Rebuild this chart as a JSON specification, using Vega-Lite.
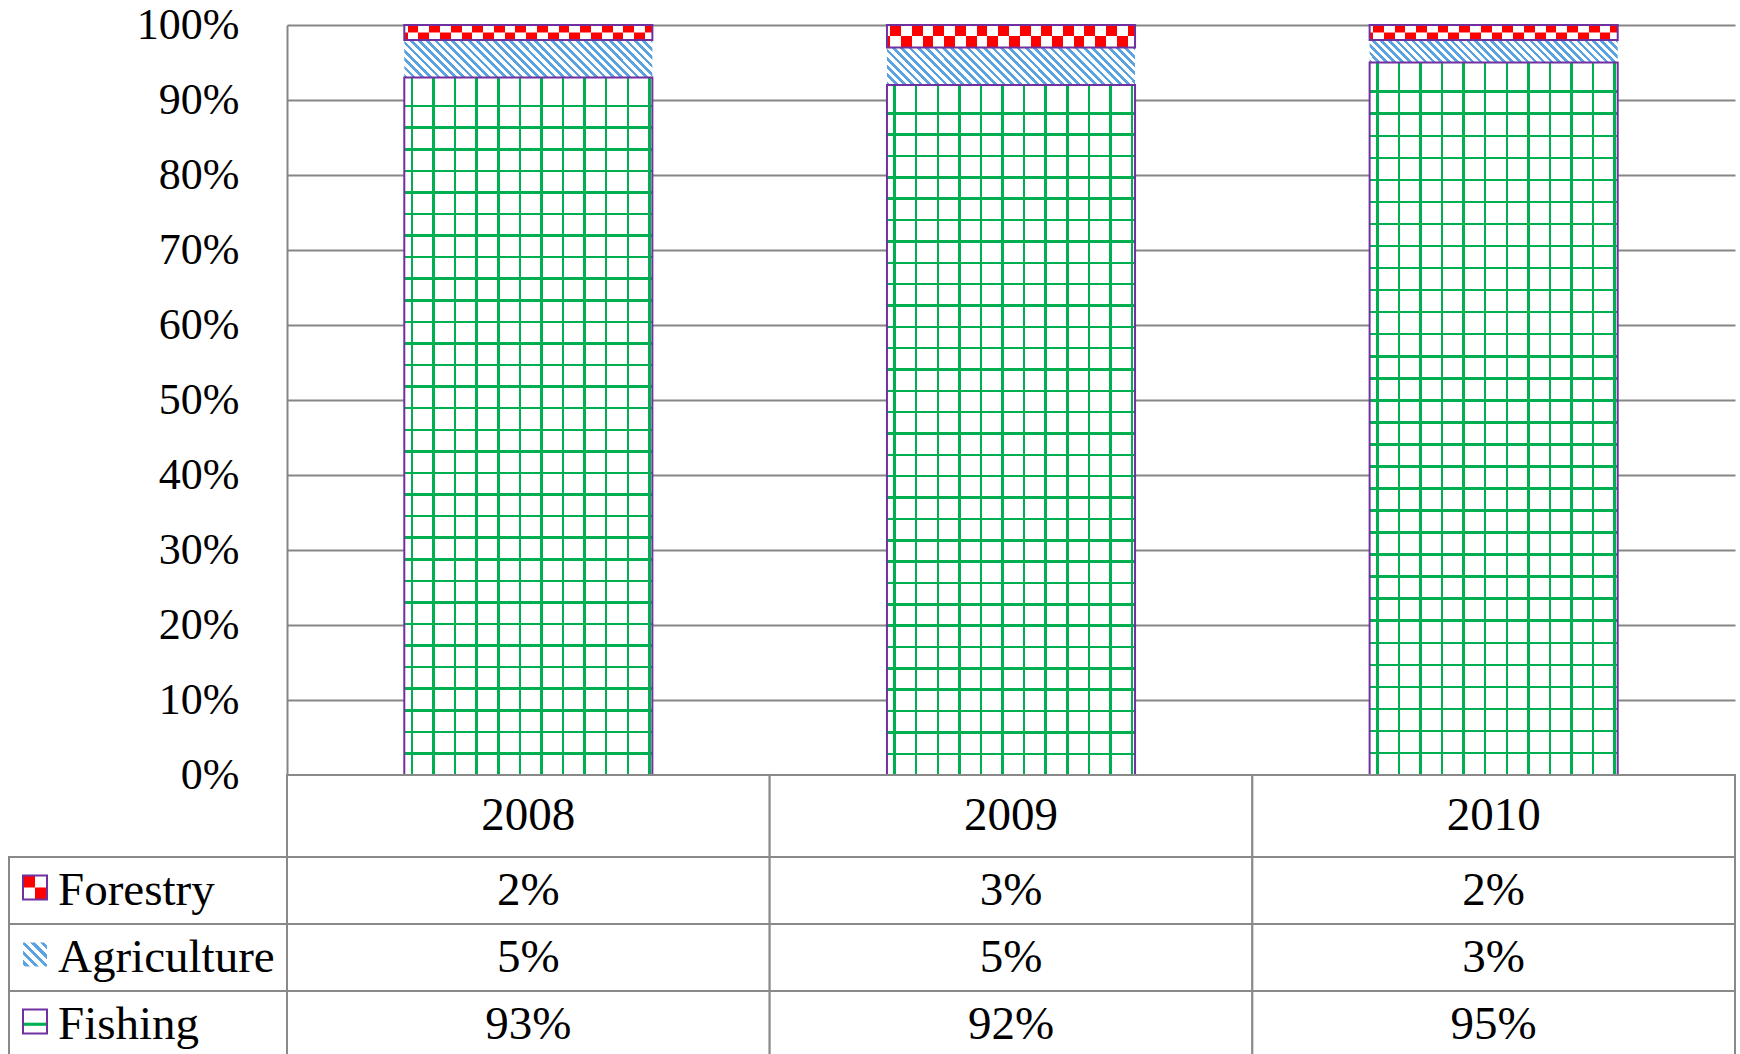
{
  "$schema": "https://vega.github.io/schema/vega-lite/v6.json",
  "width": 1448,
  "height": 750,
  "autosize": {"type": "none"},
  "padding": {"left": 287, "top": 25, "right": 5, "bottom": 279},
  "background": "#FFFFFF",
  "config": {"view": {"stroke": null}},
  "datasets": {
    "shares": [
      {"year": "2008", "sector": "Fishing", "value": 0.93},
      {"year": "2008", "sector": "Agriculture", "value": 0.05},
      {"year": "2008", "sector": "Forestry", "value": 0.02},
      {"year": "2009", "sector": "Fishing", "value": 0.92},
      {"year": "2009", "sector": "Agriculture", "value": 0.05},
      {"year": "2009", "sector": "Forestry", "value": 0.03},
      {"year": "2010", "sector": "Fishing", "value": 0.95},
      {"year": "2010", "sector": "Agriculture", "value": 0.03},
      {"year": "2010", "sector": "Forestry", "value": 0.02}
    ]
  },
  "layer": [
    {
      "data": {"name": "shares"},
      "transform": [
        {"stack": "value", "groupby": ["year"], "sort": [{"field": "year"}], "as": ["v0", "v1"]}
      ],
      "encoding": {
        "x": {"field": "year", "type": "nominal", "scale": {"type": "band", "paddingInner": 0.486, "paddingOuter": 0.243}, "axis": null},
        "y": {
          "field": "v1", "type": "quantitative",
          "scale": {"domain": [0, 1], "nice": false, "zero": true},
          "axis": {
            "values": [0, 0.1, 0.2, 0.3, 0.4, 0.5, 0.6, 0.7, 0.8, 0.9, 1],
            "format": ".0%", "title": null,
            "domain": true, "domainColor": "#868686", "domainWidth": 2,
            "ticks": false, "tickSize": 0,
            "grid": true, "gridColor": "#868686", "gridWidth": 2,
            "labelFont": "Liberation Serif", "labelFontSize": 44, "labelColor": "#000000",
            "labelPadding": 48, "labelFlush": false, "labelOverlap": false
          }
        },
        "y2": {"field": "v0"}
      },
      "layer": [
        {"mark": {"type": "bar", "fill": "#FFFFFF"}},
        {
          "transform": [{"filter": "datum.sector === 'Fishing'"}],
          "mark": {"type": "bar", "fill": {"gradient": "linear", "x1": 0, "y1": 0, "x2": 1, "y2": 0, "stops": [
            {"offset": 0, "color": "rgba(0,176,80,0)"},
            {"offset": 0.026, "color": "rgba(0,176,80,0)"}, {"offset": 0.026, "color": "#00B050"}, {"offset": 0.036, "color": "#00B050"}, {"offset": 0.036, "color": "rgba(0,176,80,0)"},
            {"offset": 0.113, "color": "rgba(0,176,80,0)"}, {"offset": 0.113, "color": "#00B050"}, {"offset": 0.123, "color": "#00B050"}, {"offset": 0.123, "color": "rgba(0,176,80,0)"},
            {"offset": 0.200, "color": "rgba(0,176,80,0)"}, {"offset": 0.200, "color": "#00B050"}, {"offset": 0.210, "color": "#00B050"}, {"offset": 0.210, "color": "rgba(0,176,80,0)"},
            {"offset": 0.287, "color": "rgba(0,176,80,0)"}, {"offset": 0.287, "color": "#00B050"}, {"offset": 0.297, "color": "#00B050"}, {"offset": 0.297, "color": "rgba(0,176,80,0)"},
            {"offset": 0.374, "color": "rgba(0,176,80,0)"}, {"offset": 0.374, "color": "#00B050"}, {"offset": 0.384, "color": "#00B050"}, {"offset": 0.384, "color": "rgba(0,176,80,0)"},
            {"offset": 0.461, "color": "rgba(0,176,80,0)"}, {"offset": 0.461, "color": "#00B050"}, {"offset": 0.471, "color": "#00B050"}, {"offset": 0.471, "color": "rgba(0,176,80,0)"},
            {"offset": 0.548, "color": "rgba(0,176,80,0)"}, {"offset": 0.548, "color": "#00B050"}, {"offset": 0.558, "color": "#00B050"}, {"offset": 0.558, "color": "rgba(0,176,80,0)"},
            {"offset": 0.635, "color": "rgba(0,176,80,0)"}, {"offset": 0.635, "color": "#00B050"}, {"offset": 0.645, "color": "#00B050"}, {"offset": 0.645, "color": "rgba(0,176,80,0)"},
            {"offset": 0.722, "color": "rgba(0,176,80,0)"}, {"offset": 0.722, "color": "#00B050"}, {"offset": 0.732, "color": "#00B050"}, {"offset": 0.732, "color": "rgba(0,176,80,0)"},
            {"offset": 0.809, "color": "rgba(0,176,80,0)"}, {"offset": 0.809, "color": "#00B050"}, {"offset": 0.819, "color": "#00B050"}, {"offset": 0.819, "color": "rgba(0,176,80,0)"},
            {"offset": 0.896, "color": "rgba(0,176,80,0)"}, {"offset": 0.896, "color": "#00B050"}, {"offset": 0.906, "color": "#00B050"}, {"offset": 0.906, "color": "rgba(0,176,80,0)"},
            {"offset": 0.983, "color": "rgba(0,176,80,0)"}, {"offset": 0.983, "color": "#00B050"}, {"offset": 0.993, "color": "#00B050"}, {"offset": 0.993, "color": "rgba(0,176,80,0)"},
            {"offset": 1, "color": "rgba(0,176,80,0)"}
          ]}}
        },
        {
          "transform": [{"filter": "datum.sector === 'Fishing'"}],
          "mark": {"type": "bar", "fill": {"gradient": "linear", "x1": 0, "y1": 0, "x2": 0, "y2": 1, "stops": [
            {"offset": 0, "color": "rgba(0,176,80,0)"},
            {"offset": 0.0392, "color": "rgba(0,176,80,0)"}, {"offset": 0.0392, "color": "#00B050"}, {"offset": 0.0428, "color": "#00B050"}, {"offset": 0.0428, "color": "rgba(0,176,80,0)"},
            {"offset": 0.0701, "color": "rgba(0,176,80,0)"}, {"offset": 0.0701, "color": "#00B050"}, {"offset": 0.0737, "color": "#00B050"}, {"offset": 0.0737, "color": "rgba(0,176,80,0)"},
            {"offset": 0.1011, "color": "rgba(0,176,80,0)"}, {"offset": 0.1011, "color": "#00B050"}, {"offset": 0.1047, "color": "#00B050"}, {"offset": 0.1047, "color": "rgba(0,176,80,0)"},
            {"offset": 0.1320, "color": "rgba(0,176,80,0)"}, {"offset": 0.1320, "color": "#00B050"}, {"offset": 0.1356, "color": "#00B050"}, {"offset": 0.1356, "color": "rgba(0,176,80,0)"},
            {"offset": 0.1630, "color": "rgba(0,176,80,0)"}, {"offset": 0.1630, "color": "#00B050"}, {"offset": 0.1666, "color": "#00B050"}, {"offset": 0.1666, "color": "rgba(0,176,80,0)"},
            {"offset": 0.1939, "color": "rgba(0,176,80,0)"}, {"offset": 0.1939, "color": "#00B050"}, {"offset": 0.1975, "color": "#00B050"}, {"offset": 0.1975, "color": "rgba(0,176,80,0)"},
            {"offset": 0.2248, "color": "rgba(0,176,80,0)"}, {"offset": 0.2248, "color": "#00B050"}, {"offset": 0.2284, "color": "#00B050"}, {"offset": 0.2284, "color": "rgba(0,176,80,0)"},
            {"offset": 0.2558, "color": "rgba(0,176,80,0)"}, {"offset": 0.2558, "color": "#00B050"}, {"offset": 0.2594, "color": "#00B050"}, {"offset": 0.2594, "color": "rgba(0,176,80,0)"},
            {"offset": 0.2867, "color": "rgba(0,176,80,0)"}, {"offset": 0.2867, "color": "#00B050"}, {"offset": 0.2903, "color": "#00B050"}, {"offset": 0.2903, "color": "rgba(0,176,80,0)"},
            {"offset": 0.3177, "color": "rgba(0,176,80,0)"}, {"offset": 0.3177, "color": "#00B050"}, {"offset": 0.3213, "color": "#00B050"}, {"offset": 0.3213, "color": "rgba(0,176,80,0)"},
            {"offset": 0.3486, "color": "rgba(0,176,80,0)"}, {"offset": 0.3486, "color": "#00B050"}, {"offset": 0.3522, "color": "#00B050"}, {"offset": 0.3522, "color": "rgba(0,176,80,0)"},
            {"offset": 0.3795, "color": "rgba(0,176,80,0)"}, {"offset": 0.3795, "color": "#00B050"}, {"offset": 0.3831, "color": "#00B050"}, {"offset": 0.3831, "color": "rgba(0,176,80,0)"},
            {"offset": 0.4105, "color": "rgba(0,176,80,0)"}, {"offset": 0.4105, "color": "#00B050"}, {"offset": 0.4141, "color": "#00B050"}, {"offset": 0.4141, "color": "rgba(0,176,80,0)"},
            {"offset": 0.4414, "color": "rgba(0,176,80,0)"}, {"offset": 0.4414, "color": "#00B050"}, {"offset": 0.4450, "color": "#00B050"}, {"offset": 0.4450, "color": "rgba(0,176,80,0)"},
            {"offset": 0.4723, "color": "rgba(0,176,80,0)"}, {"offset": 0.4723, "color": "#00B050"}, {"offset": 0.4759, "color": "#00B050"}, {"offset": 0.4759, "color": "rgba(0,176,80,0)"},
            {"offset": 0.5033, "color": "rgba(0,176,80,0)"}, {"offset": 0.5033, "color": "#00B050"}, {"offset": 0.5069, "color": "#00B050"}, {"offset": 0.5069, "color": "rgba(0,176,80,0)"},
            {"offset": 0.5342, "color": "rgba(0,176,80,0)"}, {"offset": 0.5342, "color": "#00B050"}, {"offset": 0.5378, "color": "#00B050"}, {"offset": 0.5378, "color": "rgba(0,176,80,0)"},
            {"offset": 0.5652, "color": "rgba(0,176,80,0)"}, {"offset": 0.5652, "color": "#00B050"}, {"offset": 0.5688, "color": "#00B050"}, {"offset": 0.5688, "color": "rgba(0,176,80,0)"},
            {"offset": 0.5961, "color": "rgba(0,176,80,0)"}, {"offset": 0.5961, "color": "#00B050"}, {"offset": 0.5997, "color": "#00B050"}, {"offset": 0.5997, "color": "rgba(0,176,80,0)"},
            {"offset": 0.6270, "color": "rgba(0,176,80,0)"}, {"offset": 0.6270, "color": "#00B050"}, {"offset": 0.6306, "color": "#00B050"}, {"offset": 0.6306, "color": "rgba(0,176,80,0)"},
            {"offset": 0.6580, "color": "rgba(0,176,80,0)"}, {"offset": 0.6580, "color": "#00B050"}, {"offset": 0.6616, "color": "#00B050"}, {"offset": 0.6616, "color": "rgba(0,176,80,0)"},
            {"offset": 0.6889, "color": "rgba(0,176,80,0)"}, {"offset": 0.6889, "color": "#00B050"}, {"offset": 0.6925, "color": "#00B050"}, {"offset": 0.6925, "color": "rgba(0,176,80,0)"},
            {"offset": 0.7198, "color": "rgba(0,176,80,0)"}, {"offset": 0.7198, "color": "#00B050"}, {"offset": 0.7234, "color": "#00B050"}, {"offset": 0.7234, "color": "rgba(0,176,80,0)"},
            {"offset": 0.7508, "color": "rgba(0,176,80,0)"}, {"offset": 0.7508, "color": "#00B050"}, {"offset": 0.7544, "color": "#00B050"}, {"offset": 0.7544, "color": "rgba(0,176,80,0)"},
            {"offset": 0.7817, "color": "rgba(0,176,80,0)"}, {"offset": 0.7817, "color": "#00B050"}, {"offset": 0.7853, "color": "#00B050"}, {"offset": 0.7853, "color": "rgba(0,176,80,0)"},
            {"offset": 0.8127, "color": "rgba(0,176,80,0)"}, {"offset": 0.8127, "color": "#00B050"}, {"offset": 0.8163, "color": "#00B050"}, {"offset": 0.8163, "color": "rgba(0,176,80,0)"},
            {"offset": 0.8436, "color": "rgba(0,176,80,0)"}, {"offset": 0.8436, "color": "#00B050"}, {"offset": 0.8472, "color": "#00B050"}, {"offset": 0.8472, "color": "rgba(0,176,80,0)"},
            {"offset": 0.8745, "color": "rgba(0,176,80,0)"}, {"offset": 0.8745, "color": "#00B050"}, {"offset": 0.8781, "color": "#00B050"}, {"offset": 0.8781, "color": "rgba(0,176,80,0)"},
            {"offset": 0.9055, "color": "rgba(0,176,80,0)"}, {"offset": 0.9055, "color": "#00B050"}, {"offset": 0.9091, "color": "#00B050"}, {"offset": 0.9091, "color": "rgba(0,176,80,0)"},
            {"offset": 0.9364, "color": "rgba(0,176,80,0)"}, {"offset": 0.9364, "color": "#00B050"}, {"offset": 0.9400, "color": "#00B050"}, {"offset": 0.9400, "color": "rgba(0,176,80,0)"},
            {"offset": 0.9674, "color": "rgba(0,176,80,0)"}, {"offset": 0.9674, "color": "#00B050"}, {"offset": 0.9710, "color": "#00B050"}, {"offset": 0.9710, "color": "rgba(0,176,80,0)"},
            {"offset": 1, "color": "rgba(0,176,80,0)"}
          ]}}
        },
        {
          "transform": [{"filter": "datum.sector === 'Agriculture'"}],
          "mark": {"type": "bar"},
          "encoding": {
            "fill": {
              "condition": {"test": "datum.year === '2010'", "value": {"gradient": "linear", "x1": 0, "y1": 1, "x2": 1.0817, "y2": 0.902, "stops": [
                {"offset": 0, "color": "#5BA3E0"}, {"offset": 0.0131, "color": "#5BA3E0"}, {"offset": 0.0131, "color": "#FFFFFF"},
                {"offset": 0.0291, "color": "#FFFFFF"}, {"offset": 0.0291, "color": "#5BA3E0"}, {"offset": 0.0422, "color": "#5BA3E0"}, {"offset": 0.0422, "color": "#FFFFFF"},
                {"offset": 0.0581, "color": "#FFFFFF"}, {"offset": 0.0581, "color": "#5BA3E0"}, {"offset": 0.0712, "color": "#5BA3E0"}, {"offset": 0.0712, "color": "#FFFFFF"},
                {"offset": 0.0872, "color": "#FFFFFF"}, {"offset": 0.0872, "color": "#5BA3E0"}, {"offset": 0.1003, "color": "#5BA3E0"}, {"offset": 0.1003, "color": "#FFFFFF"},
                {"offset": 0.1163, "color": "#FFFFFF"}, {"offset": 0.1163, "color": "#5BA3E0"}, {"offset": 0.1294, "color": "#5BA3E0"}, {"offset": 0.1294, "color": "#FFFFFF"},
                {"offset": 0.1454, "color": "#FFFFFF"}, {"offset": 0.1454, "color": "#5BA3E0"}, {"offset": 0.1585, "color": "#5BA3E0"}, {"offset": 0.1585, "color": "#FFFFFF"},
                {"offset": 0.1744, "color": "#FFFFFF"}, {"offset": 0.1744, "color": "#5BA3E0"}, {"offset": 0.1875, "color": "#5BA3E0"}, {"offset": 0.1875, "color": "#FFFFFF"},
                {"offset": 0.2035, "color": "#FFFFFF"}, {"offset": 0.2035, "color": "#5BA3E0"}, {"offset": 0.2166, "color": "#5BA3E0"}, {"offset": 0.2166, "color": "#FFFFFF"},
                {"offset": 0.2326, "color": "#FFFFFF"}, {"offset": 0.2326, "color": "#5BA3E0"}, {"offset": 0.2457, "color": "#5BA3E0"}, {"offset": 0.2457, "color": "#FFFFFF"},
                {"offset": 0.2616, "color": "#FFFFFF"}, {"offset": 0.2616, "color": "#5BA3E0"}, {"offset": 0.2747, "color": "#5BA3E0"}, {"offset": 0.2747, "color": "#FFFFFF"},
                {"offset": 0.2907, "color": "#FFFFFF"}, {"offset": 0.2907, "color": "#5BA3E0"}, {"offset": 0.3038, "color": "#5BA3E0"}, {"offset": 0.3038, "color": "#FFFFFF"},
                {"offset": 0.3198, "color": "#FFFFFF"}, {"offset": 0.3198, "color": "#5BA3E0"}, {"offset": 0.3329, "color": "#5BA3E0"}, {"offset": 0.3329, "color": "#FFFFFF"},
                {"offset": 0.3488, "color": "#FFFFFF"}, {"offset": 0.3488, "color": "#5BA3E0"}, {"offset": 0.3619, "color": "#5BA3E0"}, {"offset": 0.3619, "color": "#FFFFFF"},
                {"offset": 0.3779, "color": "#FFFFFF"}, {"offset": 0.3779, "color": "#5BA3E0"}, {"offset": 0.3910, "color": "#5BA3E0"}, {"offset": 0.3910, "color": "#FFFFFF"},
                {"offset": 0.4070, "color": "#FFFFFF"}, {"offset": 0.4070, "color": "#5BA3E0"}, {"offset": 0.4201, "color": "#5BA3E0"}, {"offset": 0.4201, "color": "#FFFFFF"},
                {"offset": 0.4361, "color": "#FFFFFF"}, {"offset": 0.4361, "color": "#5BA3E0"}, {"offset": 0.4492, "color": "#5BA3E0"}, {"offset": 0.4492, "color": "#FFFFFF"},
                {"offset": 0.4651, "color": "#FFFFFF"}, {"offset": 0.4651, "color": "#5BA3E0"}, {"offset": 0.4782, "color": "#5BA3E0"}, {"offset": 0.4782, "color": "#FFFFFF"},
                {"offset": 0.4942, "color": "#FFFFFF"}, {"offset": 0.4942, "color": "#5BA3E0"}, {"offset": 0.5073, "color": "#5BA3E0"}, {"offset": 0.5073, "color": "#FFFFFF"},
                {"offset": 0.5233, "color": "#FFFFFF"}, {"offset": 0.5233, "color": "#5BA3E0"}, {"offset": 0.5364, "color": "#5BA3E0"}, {"offset": 0.5364, "color": "#FFFFFF"},
                {"offset": 0.5523, "color": "#FFFFFF"}, {"offset": 0.5523, "color": "#5BA3E0"}, {"offset": 0.5654, "color": "#5BA3E0"}, {"offset": 0.5654, "color": "#FFFFFF"},
                {"offset": 0.5814, "color": "#FFFFFF"}, {"offset": 0.5814, "color": "#5BA3E0"}, {"offset": 0.5945, "color": "#5BA3E0"}, {"offset": 0.5945, "color": "#FFFFFF"},
                {"offset": 0.6105, "color": "#FFFFFF"}, {"offset": 0.6105, "color": "#5BA3E0"}, {"offset": 0.6236, "color": "#5BA3E0"}, {"offset": 0.6236, "color": "#FFFFFF"},
                {"offset": 0.6395, "color": "#FFFFFF"}, {"offset": 0.6395, "color": "#5BA3E0"}, {"offset": 0.6526, "color": "#5BA3E0"}, {"offset": 0.6526, "color": "#FFFFFF"},
                {"offset": 0.6686, "color": "#FFFFFF"}, {"offset": 0.6686, "color": "#5BA3E0"}, {"offset": 0.6817, "color": "#5BA3E0"}, {"offset": 0.6817, "color": "#FFFFFF"},
                {"offset": 0.6977, "color": "#FFFFFF"}, {"offset": 0.6977, "color": "#5BA3E0"}, {"offset": 0.7108, "color": "#5BA3E0"}, {"offset": 0.7108, "color": "#FFFFFF"},
                {"offset": 0.7268, "color": "#FFFFFF"}, {"offset": 0.7268, "color": "#5BA3E0"}, {"offset": 0.7399, "color": "#5BA3E0"}, {"offset": 0.7399, "color": "#FFFFFF"},
                {"offset": 0.7558, "color": "#FFFFFF"}, {"offset": 0.7558, "color": "#5BA3E0"}, {"offset": 0.7689, "color": "#5BA3E0"}, {"offset": 0.7689, "color": "#FFFFFF"},
                {"offset": 0.7849, "color": "#FFFFFF"}, {"offset": 0.7849, "color": "#5BA3E0"}, {"offset": 0.7980, "color": "#5BA3E0"}, {"offset": 0.7980, "color": "#FFFFFF"},
                {"offset": 0.8140, "color": "#FFFFFF"}, {"offset": 0.8140, "color": "#5BA3E0"}, {"offset": 0.8271, "color": "#5BA3E0"}, {"offset": 0.8271, "color": "#FFFFFF"},
                {"offset": 0.8430, "color": "#FFFFFF"}, {"offset": 0.8430, "color": "#5BA3E0"}, {"offset": 0.8561, "color": "#5BA3E0"}, {"offset": 0.8561, "color": "#FFFFFF"},
                {"offset": 0.8721, "color": "#FFFFFF"}, {"offset": 0.8721, "color": "#5BA3E0"}, {"offset": 0.8852, "color": "#5BA3E0"}, {"offset": 0.8852, "color": "#FFFFFF"},
                {"offset": 0.9012, "color": "#FFFFFF"}, {"offset": 0.9012, "color": "#5BA3E0"}, {"offset": 0.9143, "color": "#5BA3E0"}, {"offset": 0.9143, "color": "#FFFFFF"},
                {"offset": 0.9302, "color": "#FFFFFF"}, {"offset": 0.9302, "color": "#5BA3E0"}, {"offset": 0.9433, "color": "#5BA3E0"}, {"offset": 0.9433, "color": "#FFFFFF"},
                {"offset": 0.9593, "color": "#FFFFFF"}, {"offset": 0.9593, "color": "#5BA3E0"}, {"offset": 0.9724, "color": "#5BA3E0"}, {"offset": 0.9724, "color": "#FFFFFF"},
                {"offset": 0.9884, "color": "#FFFFFF"}, {"offset": 0.9884, "color": "#5BA3E0"}, {"offset": 1, "color": "#5BA3E0"}
              ]}},
              "value": {"gradient": "linear", "x1": 0, "y1": 1, "x2": 1.1254, "y2": 0.8301, "stops": [
                {"offset": 0, "color": "#5BA3E0"}, {"offset": 0.0131, "color": "#5BA3E0"}, {"offset": 0.0131, "color": "#FFFFFF"},
                {"offset": 0.0291, "color": "#FFFFFF"}, {"offset": 0.0291, "color": "#5BA3E0"}, {"offset": 0.0422, "color": "#5BA3E0"}, {"offset": 0.0422, "color": "#FFFFFF"},
                {"offset": 0.0581, "color": "#FFFFFF"}, {"offset": 0.0581, "color": "#5BA3E0"}, {"offset": 0.0712, "color": "#5BA3E0"}, {"offset": 0.0712, "color": "#FFFFFF"},
                {"offset": 0.0872, "color": "#FFFFFF"}, {"offset": 0.0872, "color": "#5BA3E0"}, {"offset": 0.1003, "color": "#5BA3E0"}, {"offset": 0.1003, "color": "#FFFFFF"},
                {"offset": 0.1163, "color": "#FFFFFF"}, {"offset": 0.1163, "color": "#5BA3E0"}, {"offset": 0.1294, "color": "#5BA3E0"}, {"offset": 0.1294, "color": "#FFFFFF"},
                {"offset": 0.1454, "color": "#FFFFFF"}, {"offset": 0.1454, "color": "#5BA3E0"}, {"offset": 0.1585, "color": "#5BA3E0"}, {"offset": 0.1585, "color": "#FFFFFF"},
                {"offset": 0.1744, "color": "#FFFFFF"}, {"offset": 0.1744, "color": "#5BA3E0"}, {"offset": 0.1875, "color": "#5BA3E0"}, {"offset": 0.1875, "color": "#FFFFFF"},
                {"offset": 0.2035, "color": "#FFFFFF"}, {"offset": 0.2035, "color": "#5BA3E0"}, {"offset": 0.2166, "color": "#5BA3E0"}, {"offset": 0.2166, "color": "#FFFFFF"},
                {"offset": 0.2326, "color": "#FFFFFF"}, {"offset": 0.2326, "color": "#5BA3E0"}, {"offset": 0.2457, "color": "#5BA3E0"}, {"offset": 0.2457, "color": "#FFFFFF"},
                {"offset": 0.2616, "color": "#FFFFFF"}, {"offset": 0.2616, "color": "#5BA3E0"}, {"offset": 0.2747, "color": "#5BA3E0"}, {"offset": 0.2747, "color": "#FFFFFF"},
                {"offset": 0.2907, "color": "#FFFFFF"}, {"offset": 0.2907, "color": "#5BA3E0"}, {"offset": 0.3038, "color": "#5BA3E0"}, {"offset": 0.3038, "color": "#FFFFFF"},
                {"offset": 0.3198, "color": "#FFFFFF"}, {"offset": 0.3198, "color": "#5BA3E0"}, {"offset": 0.3329, "color": "#5BA3E0"}, {"offset": 0.3329, "color": "#FFFFFF"},
                {"offset": 0.3488, "color": "#FFFFFF"}, {"offset": 0.3488, "color": "#5BA3E0"}, {"offset": 0.3619, "color": "#5BA3E0"}, {"offset": 0.3619, "color": "#FFFFFF"},
                {"offset": 0.3779, "color": "#FFFFFF"}, {"offset": 0.3779, "color": "#5BA3E0"}, {"offset": 0.3910, "color": "#5BA3E0"}, {"offset": 0.3910, "color": "#FFFFFF"},
                {"offset": 0.4070, "color": "#FFFFFF"}, {"offset": 0.4070, "color": "#5BA3E0"}, {"offset": 0.4201, "color": "#5BA3E0"}, {"offset": 0.4201, "color": "#FFFFFF"},
                {"offset": 0.4361, "color": "#FFFFFF"}, {"offset": 0.4361, "color": "#5BA3E0"}, {"offset": 0.4492, "color": "#5BA3E0"}, {"offset": 0.4492, "color": "#FFFFFF"},
                {"offset": 0.4651, "color": "#FFFFFF"}, {"offset": 0.4651, "color": "#5BA3E0"}, {"offset": 0.4782, "color": "#5BA3E0"}, {"offset": 0.4782, "color": "#FFFFFF"},
                {"offset": 0.4942, "color": "#FFFFFF"}, {"offset": 0.4942, "color": "#5BA3E0"}, {"offset": 0.5073, "color": "#5BA3E0"}, {"offset": 0.5073, "color": "#FFFFFF"},
                {"offset": 0.5233, "color": "#FFFFFF"}, {"offset": 0.5233, "color": "#5BA3E0"}, {"offset": 0.5364, "color": "#5BA3E0"}, {"offset": 0.5364, "color": "#FFFFFF"},
                {"offset": 0.5523, "color": "#FFFFFF"}, {"offset": 0.5523, "color": "#5BA3E0"}, {"offset": 0.5654, "color": "#5BA3E0"}, {"offset": 0.5654, "color": "#FFFFFF"},
                {"offset": 0.5814, "color": "#FFFFFF"}, {"offset": 0.5814, "color": "#5BA3E0"}, {"offset": 0.5945, "color": "#5BA3E0"}, {"offset": 0.5945, "color": "#FFFFFF"},
                {"offset": 0.6105, "color": "#FFFFFF"}, {"offset": 0.6105, "color": "#5BA3E0"}, {"offset": 0.6236, "color": "#5BA3E0"}, {"offset": 0.6236, "color": "#FFFFFF"},
                {"offset": 0.6395, "color": "#FFFFFF"}, {"offset": 0.6395, "color": "#5BA3E0"}, {"offset": 0.6526, "color": "#5BA3E0"}, {"offset": 0.6526, "color": "#FFFFFF"},
                {"offset": 0.6686, "color": "#FFFFFF"}, {"offset": 0.6686, "color": "#5BA3E0"}, {"offset": 0.6817, "color": "#5BA3E0"}, {"offset": 0.6817, "color": "#FFFFFF"},
                {"offset": 0.6977, "color": "#FFFFFF"}, {"offset": 0.6977, "color": "#5BA3E0"}, {"offset": 0.7108, "color": "#5BA3E0"}, {"offset": 0.7108, "color": "#FFFFFF"},
                {"offset": 0.7268, "color": "#FFFFFF"}, {"offset": 0.7268, "color": "#5BA3E0"}, {"offset": 0.7399, "color": "#5BA3E0"}, {"offset": 0.7399, "color": "#FFFFFF"},
                {"offset": 0.7558, "color": "#FFFFFF"}, {"offset": 0.7558, "color": "#5BA3E0"}, {"offset": 0.7689, "color": "#5BA3E0"}, {"offset": 0.7689, "color": "#FFFFFF"},
                {"offset": 0.7849, "color": "#FFFFFF"}, {"offset": 0.7849, "color": "#5BA3E0"}, {"offset": 0.7980, "color": "#5BA3E0"}, {"offset": 0.7980, "color": "#FFFFFF"},
                {"offset": 0.8140, "color": "#FFFFFF"}, {"offset": 0.8140, "color": "#5BA3E0"}, {"offset": 0.8271, "color": "#5BA3E0"}, {"offset": 0.8271, "color": "#FFFFFF"},
                {"offset": 0.8430, "color": "#FFFFFF"}, {"offset": 0.8430, "color": "#5BA3E0"}, {"offset": 0.8561, "color": "#5BA3E0"}, {"offset": 0.8561, "color": "#FFFFFF"},
                {"offset": 0.8721, "color": "#FFFFFF"}, {"offset": 0.8721, "color": "#5BA3E0"}, {"offset": 0.8852, "color": "#5BA3E0"}, {"offset": 0.8852, "color": "#FFFFFF"},
                {"offset": 0.9012, "color": "#FFFFFF"}, {"offset": 0.9012, "color": "#5BA3E0"}, {"offset": 0.9143, "color": "#5BA3E0"}, {"offset": 0.9143, "color": "#FFFFFF"},
                {"offset": 0.9302, "color": "#FFFFFF"}, {"offset": 0.9302, "color": "#5BA3E0"}, {"offset": 0.9433, "color": "#5BA3E0"}, {"offset": 0.9433, "color": "#FFFFFF"},
                {"offset": 0.9593, "color": "#FFFFFF"}, {"offset": 0.9593, "color": "#5BA3E0"}, {"offset": 0.9724, "color": "#5BA3E0"}, {"offset": 0.9724, "color": "#FFFFFF"},
                {"offset": 0.9884, "color": "#FFFFFF"}, {"offset": 0.9884, "color": "#5BA3E0"}, {"offset": 1, "color": "#5BA3E0"}
              ]}
            }
          }
        },
        {
          "transform": [{"filter": "datum.sector === 'Forestry'"}],
          "mark": {"type": "bar", "fill": {"gradient": "linear", "x1": 0, "y1": 0, "x2": 1, "y2": 0, "stops": [
            {"offset": 0, "color": "#FFFFFF"}, {"offset": 0.0133, "color": "#FFFFFF"}, {"offset": 0.0133, "color": "#FF0000"}, {"offset": 0.0568, "color": "#FF0000"},
            {"offset": 0.0568, "color": "#FFFFFF"}, {"offset": 0.1003, "color": "#FFFFFF"}, {"offset": 0.1003, "color": "#FF0000"}, {"offset": 0.1438, "color": "#FF0000"},
            {"offset": 0.1438, "color": "#FFFFFF"}, {"offset": 0.1873, "color": "#FFFFFF"}, {"offset": 0.1873, "color": "#FF0000"}, {"offset": 0.2308, "color": "#FF0000"},
            {"offset": 0.2308, "color": "#FFFFFF"}, {"offset": 0.2743, "color": "#FFFFFF"}, {"offset": 0.2743, "color": "#FF0000"}, {"offset": 0.3178, "color": "#FF0000"},
            {"offset": 0.3178, "color": "#FFFFFF"}, {"offset": 0.3613, "color": "#FFFFFF"}, {"offset": 0.3613, "color": "#FF0000"}, {"offset": 0.4048, "color": "#FF0000"},
            {"offset": 0.4048, "color": "#FFFFFF"}, {"offset": 0.4482, "color": "#FFFFFF"}, {"offset": 0.4482, "color": "#FF0000"}, {"offset": 0.4917, "color": "#FF0000"},
            {"offset": 0.4917, "color": "#FFFFFF"}, {"offset": 0.5352, "color": "#FFFFFF"}, {"offset": 0.5352, "color": "#FF0000"}, {"offset": 0.5787, "color": "#FF0000"},
            {"offset": 0.5787, "color": "#FFFFFF"}, {"offset": 0.6222, "color": "#FFFFFF"}, {"offset": 0.6222, "color": "#FF0000"}, {"offset": 0.6657, "color": "#FF0000"},
            {"offset": 0.6657, "color": "#FFFFFF"}, {"offset": 0.7092, "color": "#FFFFFF"}, {"offset": 0.7092, "color": "#FF0000"}, {"offset": 0.7527, "color": "#FF0000"},
            {"offset": 0.7527, "color": "#FFFFFF"}, {"offset": 0.7962, "color": "#FFFFFF"}, {"offset": 0.7962, "color": "#FF0000"}, {"offset": 0.8397, "color": "#FF0000"},
            {"offset": 0.8397, "color": "#FFFFFF"}, {"offset": 0.8832, "color": "#FFFFFF"}, {"offset": 0.8832, "color": "#FF0000"}, {"offset": 0.9267, "color": "#FF0000"},
            {"offset": 0.9267, "color": "#FFFFFF"}, {"offset": 0.9702, "color": "#FFFFFF"}, {"offset": 0.9702, "color": "#FF0000"}, {"offset": 1, "color": "#FF0000"}
          ]}}
        },
        {
          "transform": [{"filter": "datum.sector === 'Forestry' && datum.year !== '2009'"}],
          "mark": {"type": "bar", "yOffset": 7.5, "fill": {"gradient": "linear", "x1": 0, "y1": 0, "x2": 1, "y2": 0, "stops": [
            {"offset": 0, "color": "#FF0000"}, {"offset": 0.0133, "color": "#FF0000"}, {"offset": 0.0133, "color": "#FFFFFF"}, {"offset": 0.0568, "color": "#FFFFFF"},
            {"offset": 0.0568, "color": "#FF0000"}, {"offset": 0.1003, "color": "#FF0000"}, {"offset": 0.1003, "color": "#FFFFFF"}, {"offset": 0.1438, "color": "#FFFFFF"},
            {"offset": 0.1438, "color": "#FF0000"}, {"offset": 0.1873, "color": "#FF0000"}, {"offset": 0.1873, "color": "#FFFFFF"}, {"offset": 0.2308, "color": "#FFFFFF"},
            {"offset": 0.2308, "color": "#FF0000"}, {"offset": 0.2743, "color": "#FF0000"}, {"offset": 0.2743, "color": "#FFFFFF"}, {"offset": 0.3178, "color": "#FFFFFF"},
            {"offset": 0.3178, "color": "#FF0000"}, {"offset": 0.3613, "color": "#FF0000"}, {"offset": 0.3613, "color": "#FFFFFF"}, {"offset": 0.4048, "color": "#FFFFFF"},
            {"offset": 0.4048, "color": "#FF0000"}, {"offset": 0.4482, "color": "#FF0000"}, {"offset": 0.4482, "color": "#FFFFFF"}, {"offset": 0.4917, "color": "#FFFFFF"},
            {"offset": 0.4917, "color": "#FF0000"}, {"offset": 0.5352, "color": "#FF0000"}, {"offset": 0.5352, "color": "#FFFFFF"}, {"offset": 0.5787, "color": "#FFFFFF"},
            {"offset": 0.5787, "color": "#FF0000"}, {"offset": 0.6222, "color": "#FF0000"}, {"offset": 0.6222, "color": "#FFFFFF"}, {"offset": 0.6657, "color": "#FFFFFF"},
            {"offset": 0.6657, "color": "#FF0000"}, {"offset": 0.7092, "color": "#FF0000"}, {"offset": 0.7092, "color": "#FFFFFF"}, {"offset": 0.7527, "color": "#FFFFFF"},
            {"offset": 0.7527, "color": "#FF0000"}, {"offset": 0.7962, "color": "#FF0000"}, {"offset": 0.7962, "color": "#FFFFFF"}, {"offset": 0.8397, "color": "#FFFFFF"},
            {"offset": 0.8397, "color": "#FF0000"}, {"offset": 0.8832, "color": "#FF0000"}, {"offset": 0.8832, "color": "#FFFFFF"}, {"offset": 0.9267, "color": "#FFFFFF"},
            {"offset": 0.9267, "color": "#FF0000"}, {"offset": 0.9702, "color": "#FF0000"}, {"offset": 0.9702, "color": "#FFFFFF"}, {"offset": 1, "color": "#FFFFFF"}
          ]}}
        },
        {
          "transform": [{"filter": "datum.sector === 'Forestry' && datum.year === '2009'"}],
          "mark": {"type": "bar", "yOffset": 11, "fill": {"gradient": "linear", "x1": 0, "y1": 0, "x2": 1, "y2": 0, "stops": [
            {"offset": 0, "color": "#FF0000"}, {"offset": 0.0133, "color": "#FF0000"}, {"offset": 0.0133, "color": "#FFFFFF"}, {"offset": 0.0568, "color": "#FFFFFF"},
            {"offset": 0.0568, "color": "#FF0000"}, {"offset": 0.1003, "color": "#FF0000"}, {"offset": 0.1003, "color": "#FFFFFF"}, {"offset": 0.1438, "color": "#FFFFFF"},
            {"offset": 0.1438, "color": "#FF0000"}, {"offset": 0.1873, "color": "#FF0000"}, {"offset": 0.1873, "color": "#FFFFFF"}, {"offset": 0.2308, "color": "#FFFFFF"},
            {"offset": 0.2308, "color": "#FF0000"}, {"offset": 0.2743, "color": "#FF0000"}, {"offset": 0.2743, "color": "#FFFFFF"}, {"offset": 0.3178, "color": "#FFFFFF"},
            {"offset": 0.3178, "color": "#FF0000"}, {"offset": 0.3613, "color": "#FF0000"}, {"offset": 0.3613, "color": "#FFFFFF"}, {"offset": 0.4048, "color": "#FFFFFF"},
            {"offset": 0.4048, "color": "#FF0000"}, {"offset": 0.4482, "color": "#FF0000"}, {"offset": 0.4482, "color": "#FFFFFF"}, {"offset": 0.4917, "color": "#FFFFFF"},
            {"offset": 0.4917, "color": "#FF0000"}, {"offset": 0.5352, "color": "#FF0000"}, {"offset": 0.5352, "color": "#FFFFFF"}, {"offset": 0.5787, "color": "#FFFFFF"},
            {"offset": 0.5787, "color": "#FF0000"}, {"offset": 0.6222, "color": "#FF0000"}, {"offset": 0.6222, "color": "#FFFFFF"}, {"offset": 0.6657, "color": "#FFFFFF"},
            {"offset": 0.6657, "color": "#FF0000"}, {"offset": 0.7092, "color": "#FF0000"}, {"offset": 0.7092, "color": "#FFFFFF"}, {"offset": 0.7527, "color": "#FFFFFF"},
            {"offset": 0.7527, "color": "#FF0000"}, {"offset": 0.7962, "color": "#FF0000"}, {"offset": 0.7962, "color": "#FFFFFF"}, {"offset": 0.8397, "color": "#FFFFFF"},
            {"offset": 0.8397, "color": "#FF0000"}, {"offset": 0.8832, "color": "#FF0000"}, {"offset": 0.8832, "color": "#FFFFFF"}, {"offset": 0.9267, "color": "#FFFFFF"},
            {"offset": 0.9267, "color": "#FF0000"}, {"offset": 0.9702, "color": "#FF0000"}, {"offset": 0.9702, "color": "#FFFFFF"}, {"offset": 1, "color": "#FFFFFF"}
          ]}}
        },
        {
          "transform": [{"filter": "datum.sector !== 'Agriculture'"}],
          "mark": {"type": "bar", "fill": "#FFFFFF", "fillOpacity": 0, "stroke": "#7030A0", "strokeWidth": 2}
        }
      ]
    },
    {
      "data": {"name": "shares"},
      "transform": [{"filter": "datum.sector === 'Fishing'"}],
      "encoding": {
        "x": {"field": "year", "type": "nominal", "scale": {"type": "band", "paddingInner": 0, "paddingOuter": 0}, "axis": null},
        "y": {"datum": "header", "type": "nominal", "scale": {"type": "band", "domain": ["header"], "range": [750, 832], "paddingInner": 0, "paddingOuter": 0}, "axis": null}
      },
      "layer": [
        {"mark": {"type": "rect", "fill": "#FFFFFF", "stroke": "#898989", "strokeWidth": 2}},
        {"mark": {"type": "text", "font": "Liberation Serif", "fontSize": 47, "fill": "#000000", "baseline": "middle", "align": "center"}, "encoding": {"text": {"field": "year"}}}
      ]
    },
    {
      "data": {"name": "shares"},
      "encoding": {
        "x": {"field": "year", "type": "nominal", "scale": {"type": "band", "paddingInner": 0, "paddingOuter": 0}, "axis": null},
        "y": {"field": "sector", "type": "nominal", "scale": {"type": "band", "domain": ["Forestry", "Agriculture", "Fishing"], "range": [832, 1033], "paddingInner": 0, "paddingOuter": 0}, "axis": null}
      },
      "layer": [
        {"mark": {"type": "rect", "fill": "#FFFFFF", "stroke": "#898989", "strokeWidth": 2}},
        {"mark": {"type": "text", "font": "Liberation Serif", "fontSize": 47, "fill": "#000000", "baseline": "middle", "align": "center"}, "encoding": {"text": {"field": "value", "type": "quantitative", "format": ".0%"}}}
      ]
    },
    {
      "data": {"name": "shares"},
      "transform": [{"filter": "datum.year === '2008'"}],
      "encoding": {
        "y": {"field": "sector", "type": "nominal", "scale": {"type": "band", "domain": ["Forestry", "Agriculture", "Fishing"], "range": [832, 1033], "paddingInner": 0, "paddingOuter": 0}, "axis": null}
      },
      "layer": [
        {
          "mark": {"type": "rect", "fill": "#FFFFFF", "stroke": "#898989", "strokeWidth": 2},
          "encoding": {"x": {"datum": "label", "type": "nominal", "scale": {"type": "band", "domain": ["label"], "range": [-278, 0], "paddingInner": 0, "paddingOuter": 0}, "axis": null}}
        },
        {
          "mark": {"type": "text", "font": "Liberation Serif", "fontSize": 47, "fill": "#000000", "baseline": "middle", "align": "left", "dx": 49},
          "encoding": {
            "x": {"datum": "label", "type": "nominal", "bandPosition": 0, "scale": {"type": "band", "domain": ["label"], "range": [-278, 0], "paddingInner": 0, "paddingOuter": 0}, "axis": null},
            "text": {"field": "sector"}
          }
        },
        {
          "transform": [{"filter": "datum.sector === 'Forestry'"}],
          "mark": {"type": "point", "shape": "M-1,-1H0V0H-1Z M0,0H1V1H0Z", "size": 576, "filled": true, "fill": "#FF0000", "opacity": 1, "strokeWidth": 0, "xOffset": 26, "yOffset": -3},
          "encoding": {"x": {"datum": "label", "type": "nominal", "bandPosition": 0, "scale": {"type": "band", "domain": ["label"], "range": [-278, 0], "paddingInner": 0, "paddingOuter": 0}, "axis": null}}
        },
        {
          "transform": [{"filter": "datum.sector === 'Fishing'"}],
          "mark": {"type": "point", "shape": "M-1,0.1H1V0.36H-1Z", "size": 576, "filled": true, "fill": "#00B050", "opacity": 1, "strokeWidth": 0, "xOffset": 26, "yOffset": -3},
          "encoding": {"x": {"datum": "label", "type": "nominal", "bandPosition": 0, "scale": {"type": "band", "domain": ["label"], "range": [-278, 0], "paddingInner": 0, "paddingOuter": 0}, "axis": null}}
        },
        {
          "transform": [{"filter": "datum.sector !== 'Agriculture'"}],
          "mark": {"type": "point", "shape": "square", "size": 576, "filled": false, "stroke": "#7030A0", "strokeWidth": 2, "opacity": 1, "xOffset": 26, "yOffset": -3},
          "encoding": {"x": {"datum": "label", "type": "nominal", "bandPosition": 0, "scale": {"type": "band", "domain": ["label"], "range": [-278, 0], "paddingInner": 0, "paddingOuter": 0}, "axis": null}}
        },
        {
          "transform": [{"filter": "datum.sector === 'Agriculture'"}],
          "mark": {"type": "point", "shape": "square", "size": 576, "filled": true, "opacity": 1, "strokeWidth": 0, "xOffset": 26, "yOffset": -3,
            "fill": {"gradient": "linear", "x1": 0, "y1": 1, "x2": 1, "y2": 0, "stops": [
              {"offset": 0, "color": "#FFFFFF"}, {"offset": 0.05, "color": "#FFFFFF"}, {"offset": 0.05, "color": "#5BA3E0"}, {"offset": 0.14, "color": "#5BA3E0"},
              {"offset": 0.14, "color": "#FFFFFF"}, {"offset": 0.25, "color": "#FFFFFF"}, {"offset": 0.25, "color": "#5BA3E0"}, {"offset": 0.34, "color": "#5BA3E0"},
              {"offset": 0.34, "color": "#FFFFFF"}, {"offset": 0.45, "color": "#FFFFFF"}, {"offset": 0.45, "color": "#5BA3E0"}, {"offset": 0.54, "color": "#5BA3E0"},
              {"offset": 0.54, "color": "#FFFFFF"}, {"offset": 0.65, "color": "#FFFFFF"}, {"offset": 0.65, "color": "#5BA3E0"}, {"offset": 0.74, "color": "#5BA3E0"},
              {"offset": 0.74, "color": "#FFFFFF"}, {"offset": 0.85, "color": "#FFFFFF"}, {"offset": 0.85, "color": "#5BA3E0"}, {"offset": 0.94, "color": "#5BA3E0"},
              {"offset": 0.94, "color": "#FFFFFF"}, {"offset": 1, "color": "#FFFFFF"}
            ]}},
          "encoding": {"x": {"datum": "label", "type": "nominal", "bandPosition": 0, "scale": {"type": "band", "domain": ["label"], "range": [-278, 0], "paddingInner": 0, "paddingOuter": 0}, "axis": null}}
        }
      ]
    }
  ],
  "resolve": {"scale": {"x": "independent", "y": "independent"}}
}
